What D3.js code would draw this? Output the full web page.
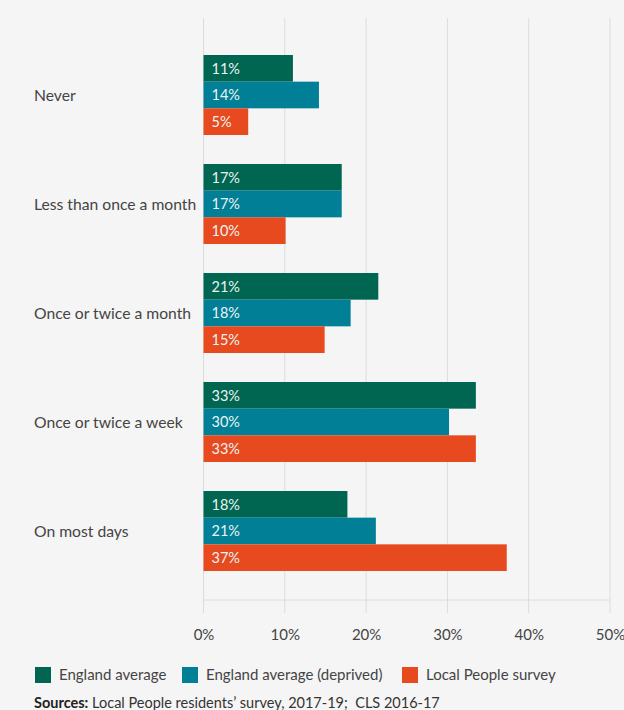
<!DOCTYPE html>
<html>
<head>
<meta charset="utf-8">
<script src="https://cdn.jsdelivr.net/npm/d3@7"></script>
<style>
  body { margin: 0; background: #f5f5f5; }
  svg { display: block; font-family: Lato, "Open Sans", sans-serif; }
</style>
</head>
<body>
<svg id="chart" width="624" height="710"></svg>
<script>
// categories (top to bottom)
const categories = ["Never", "Less than once a month", "Once or twice a month", "Once or twice a week", "On most days"];
// series names & colours
const seriesNames = ["England average", "England average (deprived)", "Local People survey"];
const seriesColors = ["#006651", "#007f96", "#e84a1f"];
// bar lengths (%)
const englandAvg = [11.0, 17.0, 21.5, 33.5, 17.7];
const englandDeprived = [14.2, 17.0, 18.1, 30.2, 21.2];
const localPeople = [5.5, 10.1, 14.9, 33.5, 37.3];
// labels printed on the bars
const englandAvgLabels = ["11%", "17%", "21%", "33%", "18%"];
const englandDeprivedLabels = ["14%", "17%", "18%", "30%", "21%"];
const localPeopleLabels = ["5%", "10%", "15%", "33%", "37%"];
const xTicks = [0, 10, 20, 30, 40, 50];

const seriesValues = [englandAvg, englandDeprived, localPeople];
const seriesLabels = [englandAvgLabels, englandDeprivedLabels, localPeopleLabels];

const svg = d3.select("#chart");
const textColor = "#444";

let xScale = d3.scaleLinear().domain([0, 50]).range([203.5, 610]);

let yScale = d3.scaleBand()
    .domain(categories)
    .range([55, 571])
    .paddingInner(0.266)
    .paddingOuter(0);

let ySub = d3.scaleBand()
    .domain(d3.range(seriesNames.length))
    .range([0, yScale.bandwidth()]);

// gridlines
svg.append("g")
    .selectAll("line")
    .data(xTicks)
    .join("line")
    .attr("x1", d => xScale(d))
    .attr("x2", d => xScale(d))
    .attr("y1", 18)
    .attr("y2", 613)
    .attr("stroke", "#dcdcdc")
    .attr("stroke-width", 1);

// baseline
svg.append("line")
    .attr("x1", xScale(0))
    .attr("x2", xScale(50))
    .attr("y1", 600)
    .attr("y2", 600)
    .attr("stroke", "#dcdcdc");

// bars
categories.forEach(function(cat, ci) {
    let g = svg.append("g").attr("transform", "translate(0," + yScale(cat) + ")");
    seriesValues.forEach(function(vals, si) {
        g.append("rect")
            .attr("x", xScale(0))
            .attr("y", ySub(si))
            .attr("width", xScale(vals[ci]) - xScale(0))
            .attr("height", ySub.bandwidth())
            .attr("fill", seriesColors[si]);
        g.append("text")
            .attr("x", xScale(0) + 8)
            .attr("y", ySub(si) + ySub.bandwidth() / 2)
            .attr("dy", "0.36em")
            .attr("fill", "#eaf4f2")
            .style("font-size", "14.5px")
            .text(seriesLabels[si][ci]);
    });
    // category label
    svg.append("text")
        .attr("x", 34)
        .attr("y", yScale(cat) + yScale.bandwidth() / 2)
        .attr("dy", "0.36em")
        .attr("fill", textColor)
        .style("font-size", "15.7px")
        .text(cat);
});

// x axis labels
let xAxis = svg.append("g")
    .attr("transform", "translate(0,640)")
    .call(d3.axisBottom(xScale).tickValues(xTicks).tickSize(0).tickFormat(d => d + "%"));
xAxis.select("path").remove();
xAxis.selectAll("text")
    .attr("dy", 0)
    .attr("y", 0)
    .style("font-family", "Lato, sans-serif")
    .style("font-size", "15px")
    .style("fill", textColor);

// legend
const legendX = [35, 182, 402];
seriesNames.forEach(function(name, i) {
    svg.append("rect")
        .attr("x", legendX[i])
        .attr("y", 667)
        .attr("width", 16)
        .attr("height", 16)
        .attr("fill", seriesColors[i]);
    svg.append("text")
        .attr("x", legendX[i] + 24)
        .attr("y", 675)
        .attr("dy", "0.36em")
        .attr("fill", textColor)
        .style("font-size", "15px")
        .text(name);
});

// sources
let src = svg.append("text")
    .attr("x", 34)
    .attr("y", 708)
    .attr("fill", "#333")
    .style("font-size", "14.5px");
src.append("tspan").style("font-weight", "bold").attr("fill", "#222").text("Sources:");
src.append("tspan").text(" Local People residents\u2019 survey, 2017-19;\u00a0 CLS 2016-17");
</script>
</body>
</html>
